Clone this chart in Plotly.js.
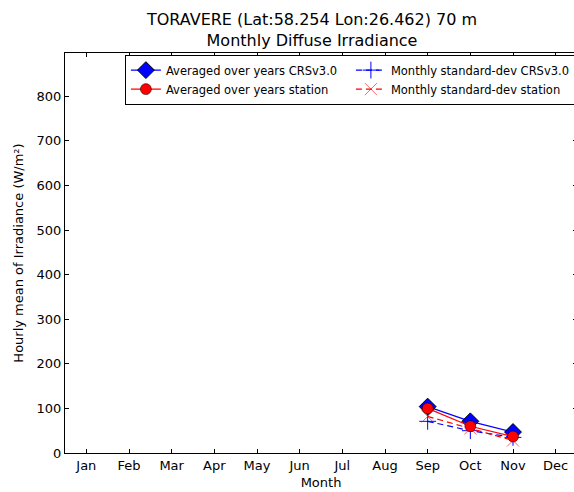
<!DOCTYPE html>
<html><head><meta charset="utf-8">
<script src="https://cdn.plot.ly/plotly-3.0.1.min.js"></script>
<style>html,body{margin:0;padding:0;overflow:hidden;background:#fff;}</style>
</head><body>
<div id="chart" style="width:580px;height:492px;"></div>
<script>
const months = [1,2,3,4,5,6,7,8,9,10,11,12];
const monthLabels = ["Jan","Feb","Mar","Apr","May","Jun","Jul","Aug","Sep","Oct","Nov","Dec"];
const dataMonths = [9,10,11];
const avgCRS = [104, 71, 47];
const avgStation = [100, 60, 37];
const stdCRS = [71, 50, 35];
const stdStation = [82, 55, 28];

const traces = [
  {x: dataMonths, y: avgCRS, name: "Averaged over years CRSv3.0", mode: "lines+markers",
   line: {color: "#0000ff", width: 1.2}, marker: {symbol: "diamond", size: 13, color: "#0000ff", line: {color: "#000", width: 1}}},
  {x: dataMonths, y: stdCRS, name: "Monthly standard-dev CRSv3.0", mode: "lines+markers",
   line: {color: "#0000ff", width: 1.2, dash: "6px,4px"}, marker: {symbol: "cross-thin", size: 12, color: "#0000ff", line: {color: "#0000ff", width: 1}}},
  {x: dataMonths, y: avgStation, name: "Averaged over years station", mode: "lines+markers",
   line: {color: "#ff0000", width: 1.2}, marker: {symbol: "circle", size: 11, color: "#ff0000", line: {color: "#000", width: 0.5}}},
  {x: dataMonths, y: stdStation, name: "Monthly standard-dev station", mode: "lines+markers",
   line: {color: "#ff0000", width: 1.2, dash: "6px,4px"}, marker: {symbol: "x-thin", size: 12, color: "rgba(255,0,0,0.6)", line: {color: "rgba(255,0,0,0.6)", width: 1}}}
];

const layout = {
  width: 580, height: 492,
  margin: {l: 65, r: 3, t: 52.5, b: 38.5},
  paper_bgcolor: "#fff", plot_bgcolor: "#fff",
  font: {family: "DejaVu Sans", size: 13, color: "#000"},
  title: {text: "TORAVERE (Lat:58.254 Lon:26.462) 70 m<br>Monthly Diffuse Irradiance", x: 312/580, xanchor: "center",
          yref: "container", y: 0.949, yanchor: "top", font: {size: 16}},
  xaxis: {range: [0.5, 12.5], tickvals: months, ticktext: monthLabels, ticks: "inside", ticklen: 4, tickcolor: "#000",
          showline: true, linecolor: "#000", linewidth: 1, mirror: "ticks", showgrid: false, zeroline: false,
          tickfont: {size: 13}, title: {text: "Month", font: {size: 13}, standoff: 6}},
  yaxis: {range: [0, 897], tickvals: [0,100,200,300,400,500,600,700,800], ticks: "inside", ticklen: 4, tickcolor: "#000",
          showline: true, linecolor: "#000", linewidth: 1, mirror: "ticks", showgrid: false, zeroline: false,
          tickfont: {size: 13}, title: {text: "Hourly mean of Irradiance (W/m²)", font: {size: 13}, standoff: 10}},
  showlegend: true,
  legend: {orientation: "h", x: 0.117, xanchor: "left", y: 0.996, yanchor: "top", traceorder: "normal",
           entrywidth: 180, entrywidthmode: "pixels", bordercolor: "#000", borderwidth: 1, bgcolor: "#fff",
           font: {size: 11.5}, tracegroupgap: 0}
};
Plotly.newPlot("chart", traces, layout, {displayModeBar: false, staticPlot: true});
</script>
</body></html>
